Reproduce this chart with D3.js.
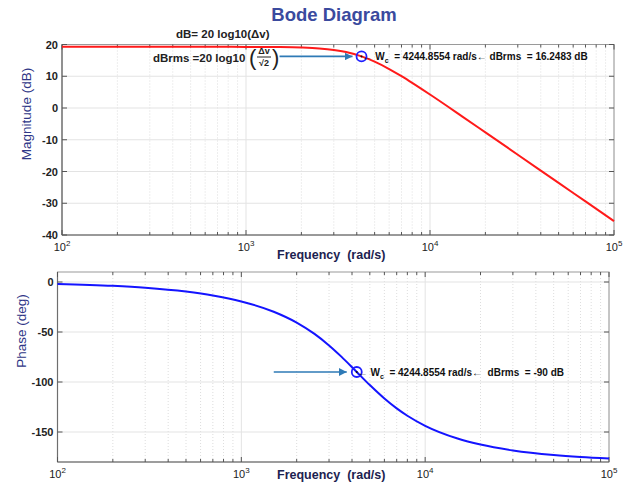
<!DOCTYPE html>
<html>
<head>
<meta charset="utf-8">
<script src="https://cdn.jsdelivr.net/npm/d3@7"></script>
<style>
  body { margin: 0; background: #fff; }
  svg { font-family: "Liberation Sans", Arial, sans-serif; }
</style>
</head>
<body>
<svg id="chart" width="627" height="485"></svg>
<script>
/* DATA - values */
const freq = [100, 200, 300, 500, 700, 1000, 1500, 2000, 2500, 3000, 3500, 4244.8554,
  5000, 6000, 7000, 8000, 10000, 15000, 20000, 30000, 50000, 70000, 100000];
const magDb = [19.26, 19.26, 19.26, 19.26, 19.26, 19.25, 19.19, 19.05, 18.77, 18.29, 17.61, 16.25,
  14.60, 12.28, 10.02, 7.92, 4.24, -2.70, -7.68, -14.71, -23.59, -29.43, -35.63];
const phaseDeg = [-1.91, -3.82, -5.74, -9.59, -13.48, -19.44, -29.73, -40.58, -51.91, -63.39, -74.62, -90,
  -103.09, -116.53, -126.40, -133.75, -143.79, -156.49, -162.55, -168.46, -173.10, -175.08, -176.56];

const decadeTicks = [1e2, 1e3, 1e4, 1e5];
const magTicks = [20, 10, 0, -10, -20, -30, -40];
const phaseTicks = [0, -50, -100, -150];

const wc = 4244.8554;
const wcMag = 16.2483;
const wcPhase = -90;

const svg = d3.select("#chart");

/// panel drawing
function drawPanel(opt) {
  const x = d3.scaleLog().domain([1e2, 1e5]).range([opt.left, opt.right]);
  const y = d3.scaleLinear().domain(opt.yDomain).range([opt.bottom, opt.top]);
  const g = svg.append("g");

  // minor grid (dotted) on 2..9 of each decade
  const minor = x.ticks().filter(d => !decadeTicks.includes(d));
  g.selectAll(".minor").data(minor).enter().append("line")
    .attr("x1", d => x(d)).attr("x2", d => x(d))
    .attr("y1", opt.top).attr("y2", opt.bottom)
    .attr("stroke", "#d4d4d4").attr("stroke-width", 0.8)
    .attr("stroke-dasharray", "1,2");

  // major grid
  g.selectAll(".vmaj").data(decadeTicks).enter().append("line")
    .attr("x1", d => x(d)).attr("x2", d => x(d))
    .attr("y1", opt.top).attr("y2", opt.bottom)
    .attr("stroke", "#e3e3e3").attr("stroke-width", 1);
  g.selectAll(".hmaj").data(opt.yTicks).enter().append("line")
    .attr("x1", opt.left).attr("x2", opt.right)
    .attr("y1", d => y(d)).attr("y2", d => y(d))
    .attr("stroke", "#e3e3e3").attr("stroke-width", 1);

  // frame
  g.append("rect")
    .attr("x", opt.left).attr("y", opt.top)
    .attr("width", opt.right - opt.left).attr("height", opt.bottom - opt.top)
    .attr("fill", "none").attr("stroke", "#9a9a9a").attr("stroke-width", 1);
  g.append("line").attr("x1", opt.left).attr("x2", opt.left)
    .attr("y1", opt.top).attr("y2", opt.bottom).attr("stroke", "#6e6e6e").attr("stroke-width", 1.2);
  g.append("line").attr("x1", opt.left).attr("x2", opt.right)
    .attr("y1", opt.bottom).attr("y2", opt.bottom).attr("stroke", "#6e6e6e").attr("stroke-width", 1.2);

  // tick marks (inside, all four sides)
  const allX = x.ticks();
  g.selectAll(".xtb").data(allX).enter().append("line")
    .attr("x1", d => x(d)).attr("x2", d => x(d))
    .attr("y1", opt.bottom).attr("y2", d => opt.bottom - (decadeTicks.includes(d) ? 5 : 3))
    .attr("stroke", "#555");
  g.selectAll(".xtt").data(allX).enter().append("line")
    .attr("x1", d => x(d)).attr("x2", d => x(d))
    .attr("y1", opt.top).attr("y2", d => opt.top + (decadeTicks.includes(d) ? 5 : 3))
    .attr("stroke", "#555");
  g.selectAll(".ytl").data(opt.yTicks).enter().append("line")
    .attr("x1", opt.left).attr("x2", opt.left + 5)
    .attr("y1", d => y(d)).attr("y2", d => y(d)).attr("stroke", "#555");
  g.selectAll(".ytr").data(opt.yTicks).enter().append("line")
    .attr("x1", opt.right).attr("x2", opt.right - 5)
    .attr("y1", d => y(d)).attr("y2", d => y(d)).attr("stroke", "#555");

  // y tick labels
  g.selectAll(".ylab").data(opt.yTicks).enter().append("text")
    .attr("x", opt.left - 4).attr("y", d => y(d) + 4)
    .attr("text-anchor", "end").attr("font-size", 11).attr("font-weight", "bold")
    .attr("fill", "#222").text(d => d);

  // x tick labels 10^n
  const xl = g.selectAll(".xlab").data(decadeTicks).enter().append("text")
    .attr("x", d => x(d)).attr("y", opt.bottom + 16)
    .attr("text-anchor", "middle").attr("font-size", 11).attr("fill", "#222");
  xl.append("tspan").text("10");
  xl.append("tspan").attr("dy", -5).attr("font-size", 8).text(d => Math.round(Math.log10(d)));

  // axis labels
  g.append("text")
    .attr("x", 277).attr("y", opt.bottom + opt.xlabDy)
    .attr("font-size", 12.5).attr("font-weight", "bold").attr("fill", "#1c2250")
    .attr("xml:space", "preserve")
    .text("Frequency  (rad/s)");
  g.append("text")
    .attr("transform", `translate(${opt.ylabX},${opt.ylabY}) rotate(-90)`)
    .attr("text-anchor", "middle").attr("font-size", 13.5).attr("fill", "#2f3787")
    .text(opt.ylabel);

  // curve
  const line = d3.line().x(d => x(d[0])).y(d => y(d[1])).curve(d3.curveMonotoneX);
  g.append("path")
    .datum(freq.map((f, i) => [f, opt.values[i]]))
    .attr("d", line).attr("fill", "none")
    .attr("stroke", opt.color).attr("stroke-width", 2);

  return { x, y, g };
}

function marker(p, yVal, arrowStart, arrowEnd, label) {
  const cx = p.x(wc), cy = p.y(yVal);
  p.g.append("line")
    .attr("x1", cx - arrowStart).attr("x2", cx - arrowEnd)
    .attr("y1", cy).attr("y2", cy)
    .attr("stroke", "#2e7ab6").attr("stroke-width", 1.6)
    .attr("marker-end", "url(#arr)");
  p.g.append("circle").attr("cx", cx).attr("cy", cy).attr("r", 5)
    .attr("fill", "none").attr("stroke", "#1f1fff").attr("stroke-width", 1.8);
  p.g.append("circle").attr("cx", cx).attr("cy", cy).attr("r", 1)
    .attr("fill", "#111");
  const t = p.g.append("text").attr("x", cx + 1).attr("y", cy + 4)
    .attr("font-size", 10).attr("font-weight", "bold").attr("fill", "#111")
    .attr("xml:space", "preserve");
  t.append("tspan").text("\u2190 W");
  t.append("tspan").attr("dy", 3).attr("font-size", 7).text("c");
  t.append("tspan").attr("dy", -3).text(label);
}

// arrow head
svg.append("defs").append("marker")
  .attr("id", "arr").attr("viewBox", "0 0 10 10").attr("refX", 10).attr("refY", 5)
  .attr("markerWidth", 5).attr("markerHeight", 5).attr("orient", "auto")
  .append("path").attr("d", "M0,0 L10,5 L0,10 z").attr("fill", "#2e7ab6");

// title
svg.append("text").attr("x", 334).attr("y", 21).attr("text-anchor", "middle")
  .attr("font-size", 18.5).attr("font-weight", "bold").attr("fill", "#3a4a9e")
  .text("Bode Diagram");

const magPanel = drawPanel({
  left: 62, right: 614, top: 44.5, bottom: 235,
  yDomain: [-40, 20], yTicks: magTicks, values: magDb, color: "#ff1a1a",
  ylabel: "Magnitude (dB)", ylabX: 31, ylabY: 114, xlabDy: 24
});
const phasePanel = drawPanel({
  left: 57.5, right: 609, top: 272, bottom: 462,
  yDomain: [-180, 10], yTicks: phaseTicks, values: phaseDeg, color: "#1414ff",
  ylabel: "Phase (deg)", ylabX: 26, ylabY: 331, xlabDy: 17
});

marker(magPanel, wcMag, 82, 9, "  = 4244.8554 rad/s\u2190 dBrms  = 16.2483 dB");
marker(phasePanel, wcPhase, 83, 10, "  = 4244.8554 rad/s\u2190  dBrms  = -90 dB");

// formula annotations
const ann = svg.append("g").attr("font-size", 11.5).attr("font-weight", "bold").attr("fill", "#222");
ann.append("text").attr("x", 176).attr("y", 38).text("dB= 20 log10(\u0394v)");
ann.append("text").attr("x", 153).attr("y", 62).text("dBrms =20 log10");
ann.append("text").attr("x", 249).attr("y", 65).attr("font-size", 22).attr("font-weight", "normal").text("(");
ann.append("text").attr("x", 264).attr("y", 54).attr("font-size", 9).attr("text-anchor", "middle").text("\u0394v");
ann.append("line").attr("x1", 257).attr("x2", 271).attr("y1", 57).attr("y2", 57).attr("stroke", "#222");
ann.append("text").attr("x", 264).attr("y", 66).attr("font-size", 9).attr("text-anchor", "middle").text("\u221A2");
ann.append("text").attr("x", 272).attr("y", 65).attr("font-size", 22).attr("font-weight", "normal").text(")");
</script>
</body>
</html>
